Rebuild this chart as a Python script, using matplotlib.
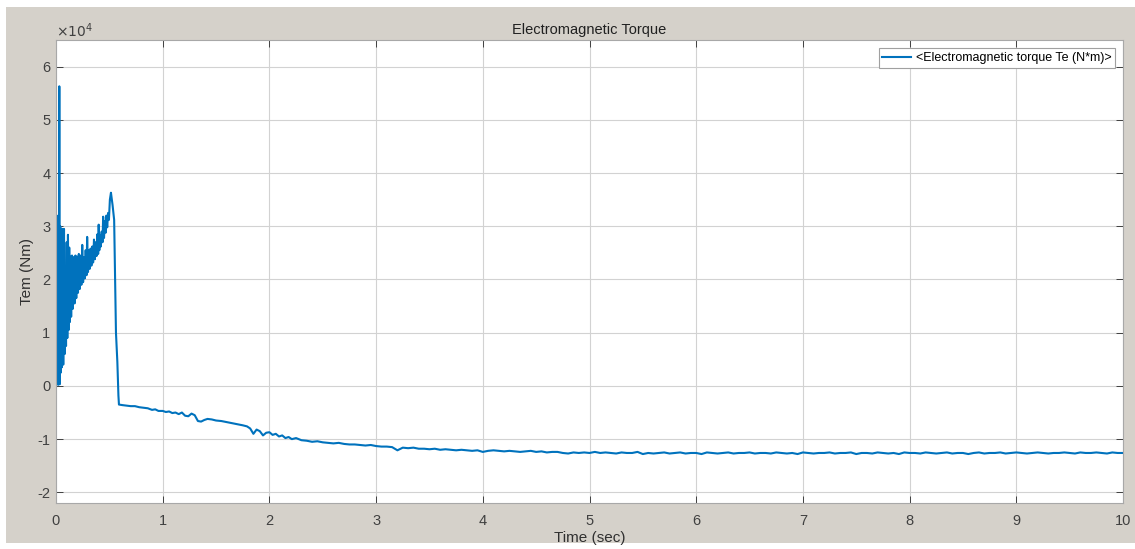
import numpy as np
import matplotlib.pyplot as plt
from matplotlib.patches import Rectangle
from matplotlib.ticker import FuncFormatter

# Electromagnetic torque (values in 1e4 N*m)
t_start = [0.000, 0.004, 0.008, 0.012, 0.016, 0.020, 0.024, 0.028, 0.031, 0.034,
           0.040, 0.045, 0.050, 0.055, 0.062, 0.068, 0.075, 0.082, 0.088, 0.094,
           0.100, 0.106, 0.112, 0.118, 0.124, 0.130, 0.136, 0.142, 0.150, 0.158,
           0.166, 0.174, 0.182, 0.190, 0.198, 0.206, 0.214, 0.222, 0.230, 0.238,
           0.246, 0.254, 0.262, 0.270, 0.278, 0.286, 0.292, 0.300, 0.308, 0.316,
           0.324, 0.332, 0.340, 0.348, 0.356, 0.364, 0.372, 0.380, 0.388, 0.395,
           0.400, 0.406, 0.412, 0.420, 0.428, 0.436, 0.442, 0.450, 0.458, 0.466,
           0.472, 0.480, 0.488, 0.496, 0.505, 0.515, 0.530, 0.545, 0.553, 0.562,
           0.575, 0.585, 0.590]
te_start = [3.20, 0.20, 3.20, 0.05, 3.15, 0.02, 3.10, 0.05, 5.63, 0.03,
            3.00, 0.25, 2.95, 0.35, 2.95, 0.40, 2.95, 0.60, 2.06, 0.75,
            2.70, 0.90, 2.84, 1.05, 2.60, 1.20, 2.43, 1.30, 2.45, 1.45,
            2.42, 1.55, 2.45, 1.65, 2.43, 1.75, 2.48, 1.82, 2.45, 1.90,
            2.65, 1.95, 2.42, 2.02, 2.55, 2.08, 2.80, 2.14, 2.55, 2.20,
            2.58, 2.26, 2.62, 2.32, 2.75, 2.38, 2.70, 2.44, 2.85, 2.48,
            3.03, 2.55, 2.84, 2.62, 2.90, 2.70, 3.18, 2.78, 3.10, 2.88,
            3.20, 2.98, 3.25, 3.12, 3.50, 3.63, 3.40, 3.12, 2.06, 1.00,
            0.45, -0.18, -0.35]

t_fall = [0.62, 0.66, 0.70, 0.74, 0.78, 0.82, 0.86, 0.90, 0.93, 0.96,
          1.00, 1.03, 1.06, 1.09, 1.12, 1.15, 1.18, 1.21, 1.24, 1.27,
          1.30, 1.33, 1.36, 1.39, 1.42, 1.46, 1.50, 1.55, 1.60, 1.65,
          1.70, 1.75, 1.79, 1.82, 1.85, 1.88, 1.91, 1.94, 1.97, 2.00,
          2.03, 2.06, 2.09, 2.12, 2.15, 2.18, 2.21, 2.25]
te_fall = [-0.36, -0.37, -0.38, -0.38, -0.40, -0.41, -0.42, -0.45, -0.44, -0.47,
           -0.47, -0.49, -0.48, -0.51, -0.50, -0.53, -0.50, -0.56, -0.57, -0.52,
           -0.55, -0.66, -0.67, -0.64, -0.62, -0.63, -0.65, -0.66, -0.68, -0.70,
           -0.72, -0.74, -0.76, -0.80, -0.90, -0.82, -0.85, -0.93, -0.88, -0.87,
           -0.92, -0.90, -0.95, -0.93, -0.98, -0.96, -1.00, -0.98]

# tail, one value every 0.05 s from 2.30 s to 10.00 s (155 values)
te_tail = [-1.02, -1.03, -1.05, -1.04, -1.06, -1.07, -1.08, -1.07, -1.09, -1.10,
           -1.10, -1.11, -1.12, -1.11, -1.13, -1.14, -1.14, -1.15, -1.21, -1.16,
           -1.17, -1.16, -1.18, -1.18, -1.19, -1.18, -1.20, -1.19, -1.20, -1.21,
           -1.20, -1.21, -1.22, -1.21, -1.24, -1.22, -1.21, -1.22, -1.23, -1.22,
           -1.23, -1.24, -1.23, -1.22, -1.24, -1.23, -1.25, -1.24, -1.24, -1.26,
           -1.27, -1.25, -1.26, -1.25, -1.26, -1.24, -1.26, -1.25, -1.26, -1.27,
           -1.25, -1.26, -1.26, -1.24, -1.28, -1.26, -1.27, -1.26, -1.25, -1.27,
           -1.26, -1.25, -1.27, -1.26, -1.26, -1.28, -1.25, -1.26, -1.27, -1.26,
           -1.25, -1.27, -1.26, -1.26, -1.25, -1.27, -1.26, -1.26, -1.27, -1.25,
           -1.26, -1.27, -1.26, -1.28, -1.25, -1.26, -1.27, -1.26, -1.26, -1.25,
           -1.27, -1.26, -1.26, -1.25, -1.28, -1.26, -1.26, -1.27, -1.25, -1.26,
           -1.27, -1.26, -1.28, -1.25, -1.26, -1.26, -1.27, -1.25, -1.26, -1.27,
           -1.26, -1.25, -1.27, -1.26, -1.26, -1.28, -1.26, -1.25, -1.27, -1.26,
           -1.26, -1.25, -1.27, -1.26, -1.25, -1.26, -1.27, -1.26, -1.25, -1.26,
           -1.27, -1.26, -1.26, -1.25, -1.26, -1.27, -1.25, -1.26, -1.26, -1.25,
           -1.26, -1.27, -1.25, -1.26, -1.26]
t_tail = np.round(np.arange(2.30, 10.001, 0.05), 2)[:len(te_tail)]

time = np.concatenate([t_start, t_fall, t_tail])
torque = np.concatenate([te_start, te_fall, te_tail]) * 1e4

plt.rcParams['font.family'] = ['Liberation Sans', 'DejaVu Sans']
plt.rcParams['axes.unicode_minus'] = False

fig = plt.figure(figsize=(11.35, 5.49), dpi=100, facecolor='white')
# grey window frame like the Simulink scope export
fig.patches.append(Rectangle((6/1135, 6/549), 1, 536/549, transform=fig.transFigure,
                             facecolor='#d5d1ca', edgecolor='none', zorder=-10))

ax = fig.add_axes([56/1135, 46/549, 1067/1135, 463/549])
ax.set_zorder(1)
ax.plot(time, torque, color='#0072bd', lw=1.5,
        label='<Electromagnetic torque Te (N*m)>')

ax.set_xlim(0, 10)
ax.set_ylim(-2.2e4, 6.5e4)
ax.set_xticks(np.arange(0, 11, 1))
ax.set_yticks(np.arange(-2e4, 7e4, 1e4))
ax.yaxis.set_major_formatter(FuncFormatter(lambda v, p: f'{v / 1e4:g}'))
ax.text(0.0, 1.0, r'$\times10^{4}$', transform=ax.transAxes, fontsize=10,
        color='#404040', ha='left', va='bottom')

ax.grid(True, color='#d2d2d2', lw=0.8)
ax.tick_params(direction='in', length=5, top=True, right=True,
               labelsize=10.5, colors='#404040', width=0.7)
ax.tick_params(axis='x', pad=8)
ax.tick_params(axis='y', pad=4)
for s in ax.spines.values():
    s.set_color('#a8a8a8')
    s.set_linewidth(0.8)

ax.set_title('Electromagnetic Torque', fontsize=10.5, color='#202020', pad=4)
ax.set_xlabel('Time (sec)', fontsize=11, color='#303030', labelpad=2)
ax.set_ylabel('Tem (Nm)', fontsize=11, color='#303030')
ax.yaxis.set_label_coords(-0.021, 0.5)

leg = ax.legend(loc='upper right', fontsize=9, fancybox=False, framealpha=1,
                borderaxespad=0.65, handlelength=2.3, handletextpad=0.35,
                borderpad=0.3)
leg.get_frame().set_edgecolor('#a0a0a0')
leg.get_frame().set_linewidth(0.8)

plt.savefig('out.png', dpi=100, facecolor=fig.get_facecolor())
